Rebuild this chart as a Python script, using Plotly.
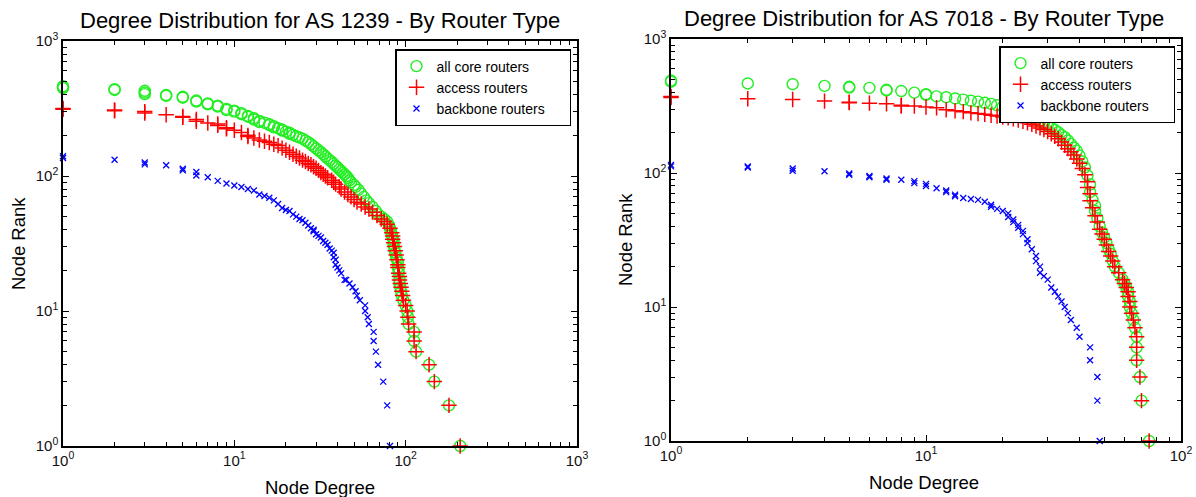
import plotly.graph_objects as go

# ---------------- data (degree, rank) ----------------
AS1239_core = [(1,462),(1,455),(1,448),(2,440),(2,434),(3,428),(3,415),(3,404),(4,398),(4,392),
    (5,386),(5,380),(6,362),(6,356),(7,345),(7,340),(8,332),(8,327),(9,314),(9,308),(10,305),(10,300),
    (11,292),(11,287),(12,279),(12,275),(13,268),(13,262),(14,256),(14,251),(15,248),(16,242),(16,238),
    (17,234),(17,229),(18,226),(19,221),(19,217),(20,213),(21,209),(21,205),(22,202),(23,197),(24,193),
    (25,189),(26,183),(27,178),(28,172),(29,166),(30,160),(31,155),(32,150),(33,145),(34,140),(35,135),
    (36,131),(37,127),(38,123),(39,119),(40,116),(41,112),(42,109),(43,106),(44,103),(45,100),(46,97),
    (47,93),(48,90),(50,86),(51,83),(53,79),(55,74),(57,70),(59,66),(61,63),(64,59),(67,55),(69,52),
    (72,50),(75,48),(78,46),(80,43),(81,41),(82,39),(83,37),(84,35),(85,33),(85,31),(86,29),(87,27),
    (88,25),(89,24),(90,23),(90,21),(91,20),(91,19),(92,17),(92,16),(93,15),(94,14),(95,13),(97,12),
    (100,11),(102,10),(103,9),(104,8),(112,7),(112,6),(115,5),(137,4),(147,3),(179,2),(208,1)]

AS1239_access = [(1,316),(1,312),(2,308),(2,304),(3,300),(3,293),(4,284),(5,276),(5,272),(6,262),
    (6,254),(7,247),(8,243),(8,237),(9,228),(9,224),(10,218),(11,210),(12,200),(12,196),(13,191),
    (14,185),(15,181),(16,177),(17,172),(18,168),(19,161),(20,155),(21,150),(22,145),(23,140),(24,136),
    (25,131),(26,128),(27,124),(28,121),(29,117),(30,114),(31,110),(32,106),(33,103),(34,100),(35,97),
    (37,93),(38,90),(39,87),(41,83),(42,80),(44,76),(46,73),(48,70),(50,67),(52,64),(55,62),(58,59),
    (61,57),(64,54),(68,51),(72,48),(75,46),(78,44),(81,41),(83,38),(84,36),(84,34),(85,32),(86,30),
    (87,28),(88,26),(89,24),(90,22),(90,21),(91,19),(92,18),(92,17),(93,16),(94,15),(95,14),(96,13),
    (97,12),(100,11),(102,10),(103,9),(104,8),(112,7),(112,6),(115,5),(137,4),(147,3),(179,2),(208,1)]

AS1239_backbone = [(1,140),(1,136),(2,132),(3,126),(3,122),(4,120),(5,113),(5,110),(6,107),(6,101),
    (7,98),(8,92),(9,88),(10,85),(11,83),(12,80),(13,78),(14,73),(15,71),(16,69),(17,66),(18,62),
    (19,58),(20,56),(21,55),(22,52),(23,50),(24,48),(25,47),(26,45),(27,43),(28,41),(29,40),(29,39),
    (30,37),(31,36),(32,35),(33,33),(34,32),(35,31),(36,29),(37,28),(38,27),(38,25),(39,24),(39,22),
    (40,21),(41,20),(42,19),(44,17),(45,17),(47,16),(49,15),(51,14),(52,13),(54,12),(58,11),(58,10),
    (60,9),(61,8),(65,7),(65,6),(67,5),(69,4),(74,3),(78,2),(81,1)]

AS7018_core = [(1,490),(1,480),(2,466),(3,460),(4,447),(5,440),(5,434),(6,432),(7,418),(7,413),
    (8,409),(9,398),(10,388),(10,383),(11,373),(12,368),(13,360),(14,353),(15,346),(16,341),(17,334),
    (18,328),(19,320),(20,313),(21,302),(22,292),(23,284),(24,276),(25,268),(26,258),(27,250),(28,242),
    (29,234),(30,225),(31,217),(32,210),(33,202),(34,192),(35,185),(36,175),(37,165),(38,155),(39,147),
    (40,135),(41,122),(42,110),(43,96),(44,82),(44,72),(45,63),(46,57),(46,52),(47,46),(48,40),(49,36),
    (50,33),(51,30),(52,27),(53,25),(54,22),(55,20),(57,18),(59,16),(60,15),(61,14),(62,13),(62,12),
    (63,11),(63,10),(64,9),(65,8),(66,7),(67,6),(67,5),(67,4),(69,3),(70,2),(75,1)]

AS7018_access = [(1,372),(1,366),(2,358),(3,354),(4,344),(5,338),(5,335),(6,332),(7,328),(8,320),
    (8,316),(9,316),(10,311),(11,307),(12,296),(13,291),(14,287),(15,281),(16,278),(17,274),(18,270),
    (19,266),(20,262),(21,258),(22,254),(23,248),(24,243),(25,237),(26,231),(27,224),(28,217),(29,211),
    (30,204),(31,196),(32,188),(33,180),(34,170),(35,161),(36,152),(37,144),(38,136),(39,127),(40,118),
    (41,108),(42,97),(43,86),(43,78),(44,70),(44,62),(45,55),(46,48),(47,43),(48,38),(49,35),(50,32),
    (51,29),(52,26),(53,24),(54,22),(55,20),(57,18),(59,16),(60,15),(61,14),(62,13),(62,12),(63,11),
    (63,10),(64,9),(65,8),(66,7),(67,6),(67,5),(67,4),(69,3),(70,2),(75,1)]

AS7018_backbone = [(1,115),(1,112),(2,112),(2,110),(3,108),(3,104),(4,103),(5,99),(5,97),(6,95),
    (6,93),(7,91),(7,89),(8,89),(9,87),(9,84),(10,83),(10,80),(11,77),(12,74),(12,72),(13,69),(13,67),
    (14,65),(15,64),(16,63),(17,61),(18,58),(18,56),(19,54),(20,52),(21,50),(21,47),(22,45),(22,43),
    (23,41),(23,39),(24,37),(24,35),(25,32),(25,30),(26,27),(27,24),(27,22),(28,20),(28,18),(29,17),
    (30,16),(31,14),(32,13),(33,12),(34,11),(35,10),(36,9),(37,8),(39,7),(40,6),(44,5),(44,4),(47,3),
    (47,2),(48,1)]

series_names = ["all core routers", "access routers", "backbone routers"]
titles = ["Degree Distribution for AS 1239 - By Router Type",
          "Degree Distribution for AS 7018 - By Router Type"]
x_tick_vals_L = [1, 10, 100, 1000]
x_tick_vals_R = [1, 10, 100]
y_tick_vals = [1, 10, 100, 1000]
tick_text = ["10<sup>0</sup>", "10<sup>1</sup>", "10<sup>2</sup>", "10<sup>3</sup>"]
minor_vals = [m * 10 ** k for k in range(3) for m in range(2, 10)]

FONT = "Arial, 'Liberation Sans', sans-serif"
styles = [
    dict(symbol="circle-open", size=11, color="#22ee22", line=dict(width=1.4, color="#22ee22")),
    dict(symbol="cross-thin-open", size=11, color="#ff0000", line=dict(width=1.5, color="#ff0000")),
    dict(symbol="x-thin-open", size=6, color="#0000ff", line=dict(width=1.3, color="#0000ff")),
]
PAD = "\u00a0" * 5  # widens the legend box like the reference

fig = go.Figure()
panels = [
    ("x", "y", "legend", [AS1239_core, AS1239_access, AS1239_backbone]),
    ("x2", "y2", "legend2", [AS7018_core, AS7018_access, AS7018_backbone]),
]
for xa, ya, lg, sets in panels:
    for name, pts, st in zip(series_names, sets, styles):
        fig.add_trace(go.Scatter(
            x=[p[0] for p in pts], y=[p[1] for p in pts], mode="markers",
            name=name + (PAD if name.startswith("backbone") else ""),
            marker=st, xaxis=xa, yaxis=ya, legend=lg, cliponaxis=False))

W, H = 1196, 497
def px(v):
    return v / W
def py(v):
    return 1 - v / H

axis_common = dict(
    type="log", showgrid=False, zeroline=False, showline=True, linecolor="black", linewidth=1.5,
    mirror="allticks", ticks="inside", ticklen=6, tickwidth=1, tickcolor="black",
    tickmode="array", ticktext=tick_text, automargin=False,
    tickfont=dict(family=FONT, size=15, color="#111"),
    minor=dict(tickvals=minor_vals, ticks="inside", ticklen=4, tickwidth=1, tickcolor="black"),
)
legend_common = dict(xanchor="left", yanchor="top", bgcolor="white", bordercolor="black",
                     borderwidth=1.5, font=dict(family=FONT, size=14), tracegroupgap=0,
                     itemwidth=30)
fig.update_layout(
    template="none",
    width=W, height=H, autosize=False, margin=dict(l=0, r=0, t=0, b=0, autoexpand=False),
    paper_bgcolor="white", plot_bgcolor="white", font=dict(family=FONT, color="black"),
    xaxis=dict(axis_common, domain=[px(63), px(577)], range=[0, 3], tickvals=x_tick_vals_L, anchor="y"),
    yaxis=dict(axis_common, domain=[py(446), py(41)], range=[0, 3], tickvals=y_tick_vals, anchor="x"),
    xaxis2=dict(axis_common, domain=[px(671), px(1181)], range=[0, 2], tickvals=x_tick_vals_R, anchor="y2"),
    yaxis2=dict(axis_common, domain=[py(441), py(39)], range=[0, 3], tickvals=y_tick_vals, anchor="x2"),
    legend=dict(legend_common, x=px(395), y=py(49)),
    legend2=dict(legend_common, x=px(999), y=py(46)),
    showlegend=True,
)

ann = [
    dict(text=titles[0], x=320, y=21, size=22, angle=0),
    dict(text=titles[1], x=924, y=18, size=22, angle=0),
    dict(text="Node Degree", x=320, y=487, size=18.5, angle=0),
    dict(text="Node Degree", x=924, y=482, size=18.5, angle=0),
    dict(text="Node Rank", x=18, y=244, size=18.5, angle=-90),
    dict(text="Node Rank", x=625, y=240, size=18.5, angle=-90),
]
for a in ann:
    fig.add_annotation(text=a["text"], x=px(a["x"]), y=py(a["y"]), xref="paper", yref="paper",
                       xanchor="center", yanchor="middle", showarrow=False, textangle=a["angle"],
                       font=dict(family=FONT, size=a["size"], color="black"))

fig.write_html("out.html", config={"displayModeBar": False},
               post_script="document.documentElement.style.margin='0';"
                           "document.body.style.margin='0';"
                           "document.body.style.overflow='hidden';")
